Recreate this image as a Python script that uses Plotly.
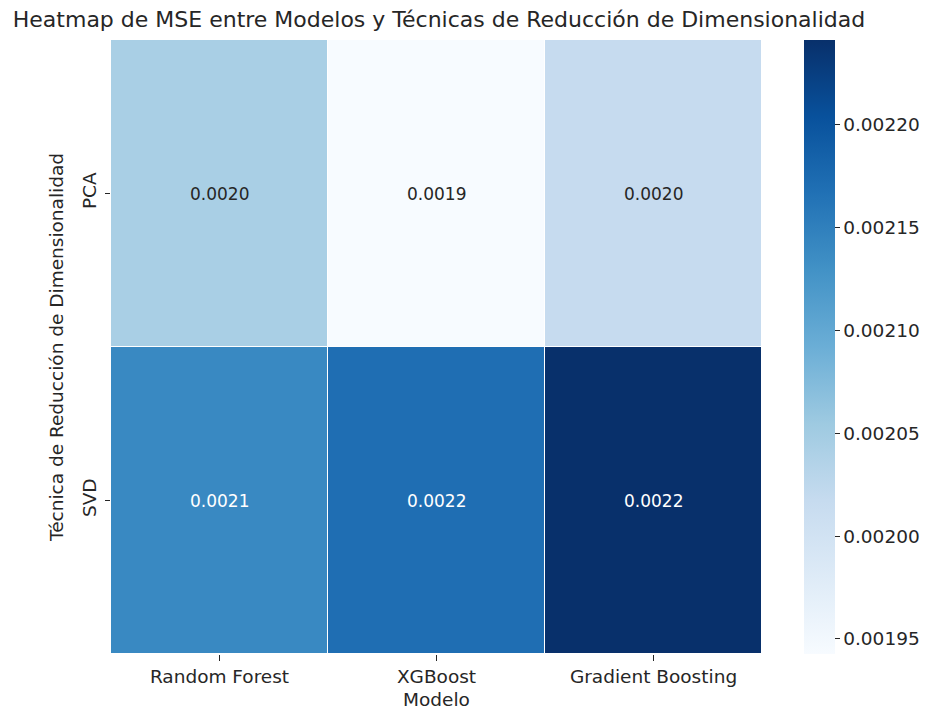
import plotly.graph_objects as go

modelos = ["Random Forest", "XGBoost", "Gradient Boosting"]
tecnicas = ["PCA", "SVD"]
mse_pca = [0.002044, 0.0019427, 0.002017]
mse_svd = [0.002139, 0.002170, 0.0022413]
cbar_ticks = [0.00195, 0.00200, 0.00205, 0.00210, 0.00215, 0.00220]

z = [mse_pca, mse_svd]
zmin = min(min(r) for r in z)
zmax = max(max(r) for r in z)

blues = ["#f7fbff", "#deebf7", "#c6dbef", "#9ecae1", "#6baed6",
         "#4292c6", "#2171b5", "#08519c", "#08306b"]
cscale = [[i / 8, c] for i, c in enumerate(blues)]

FONT = "DejaVu Sans"
TXT = "#262626"
W, H = 924, 702  # page body adds an 8px offset

fig = go.Figure()
fig.add_trace(go.Heatmap(
    z=z, x=modelos, y=tecnicas, zmin=zmin, zmax=zmax,
    colorscale=cscale, xgap=1, ygap=1,
    colorbar=dict(
        x=1.0639, xanchor="left", xpad=0, y=0.5, yanchor="middle", ypad=0,
        len=1, lenmode="fraction", thickness=31, outlinewidth=0,
        tickvals=cbar_ticks, ticktext=[f"{v:.5f}" for v in cbar_ticks],
        ticks="outside", ticklen=5, tickcolor=TXT, tickwidth=1,
        tickfont=dict(family=FONT, size=18.5, color=TXT),
    ),
    hoverinfo="skip",
))

for i, row in enumerate(z):
    for j, v in enumerate(row):
        frac = (v - zmin) / (zmax - zmin)
        fig.add_annotation(
            x=modelos[j], y=tecnicas[i], text=f"{v:.4f}", showarrow=False,
            font=dict(family=FONT, size=17, color="white" if frac > 0.5 else TXT),
        )

fig.update_layout(
    width=W, height=H,
    margin=dict(l=103, r=164, t=32, b=56),
    paper_bgcolor="white", plot_bgcolor="white",
    title=dict(
        text="Heatmap de MSE entre Modelos y Técnicas de Reducción de Dimensionalidad",
        x=431 / W, xanchor="center", xref="container",
        y=1 - 11 / H, yanchor="middle", yref="container",
        font=dict(family=FONT, size=22, color=TXT),
    ),
    font=dict(family=FONT, color=TXT),
)
fig.update_xaxes(
    title=dict(text="Modelo", font=dict(family=FONT, size=18.5, color=TXT), standoff=6),
    tickfont=dict(family=FONT, size=18.5, color=TXT),
    ticks="outside", ticklen=6, tickcolor=TXT, showgrid=False, zeroline=False,
    showline=False, automargin=False,
)
fig.update_yaxes(
    title=dict(text="Técnica de Reducción de Dimensionalidad",
               font=dict(family=FONT, size=18.5, color=TXT), standoff=10),
    tickfont=dict(family=FONT, size=18.5, color=TXT), tickangle=-90,
    ticks="outside", ticklen=5, tickcolor=TXT, showgrid=False, zeroline=False,
    showline=False, autorange="reversed", automargin=False, ticklabelstandoff=2,
)

fig.write_html("out.html")
